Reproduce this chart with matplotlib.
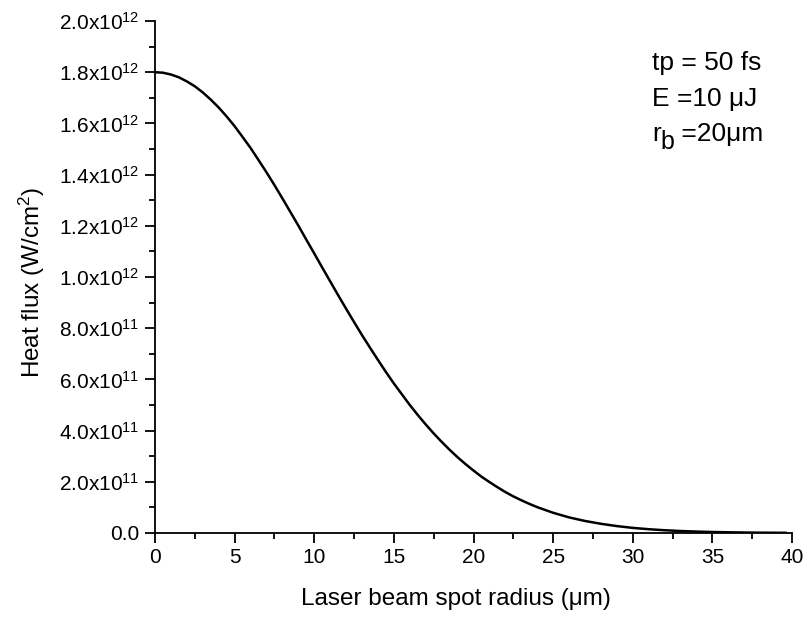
import math
import matplotlib
matplotlib.use("Agg")
import matplotlib.pyplot as plt
from matplotlib.ticker import MultipleLocator, FuncFormatter
from matplotlib import transforms

plt.rcParams['font.family'] = ['Liberation Sans', 'DejaVu Sans']
plt.rcParams['mathtext.fontset'] = 'custom'
plt.rcParams['mathtext.rm'] = 'Liberation Sans'
plt.rcParams['mathtext.it'] = 'Liberation Sans'
plt.rcParams['mathtext.default'] = 'regular'

# radius (um) and heat flux (units of 1e12 W/cm^2)
radius = [0, 0.5, 1, 1.5, 2, 2.5, 3, 3.5, 4, 4.5, 5, 5.5, 6, 6.5, 7, 7.5, 8, 8.5,
          9, 9.5, 10, 10.5, 11, 11.5, 12, 12.5, 13, 13.5, 14, 14.5, 15, 15.5,
          16, 16.5, 17, 17.5, 18, 18.5, 19, 19.5, 20, 20.5, 21, 21.5, 22, 22.5,
          23, 23.5, 24, 24.5, 25, 26, 27, 28, 29, 30, 31, 32, 33, 34, 35, 36,
          37, 38, 39, 39.6]
flux_e12 = [1.800, 1.798, 1.791, 1.780, 1.764, 1.745, 1.721, 1.693, 1.662, 1.627,
            1.589, 1.547, 1.504, 1.457, 1.409, 1.359, 1.307, 1.254, 1.201, 1.146,
            1.092, 1.037, 0.983, 0.929, 0.876, 0.824, 0.773, 0.724, 0.676, 0.629,
            0.584, 0.542, 0.500, 0.461, 0.424, 0.389, 0.356, 0.325, 0.296, 0.269,
            0.244, 0.220, 0.199, 0.179, 0.160, 0.143, 0.128, 0.114, 0.101, 0.090,
            0.079, 0.061, 0.047, 0.036, 0.027, 0.020, 0.0148, 0.0108, 0.0078,
            0.0056, 0.0039, 0.0028, 0.0019, 0.0013, 0.0009, 0.0007]
flux = [v * 1e12 for v in flux_e12]

fig = plt.figure(figsize=(8.06, 6.22), dpi=100)
ax = fig.add_axes([155/806, 1 - 533/622, (792-155)/806, (533-21)/622])

ax.plot(radius, flux, color='black', lw=1.8)

ax.set_xlim(0, 40)
ax.set_ylim(0, 2.0e12)
ax.xaxis.set_major_locator(MultipleLocator(5))
ax.xaxis.set_minor_locator(MultipleLocator(2.5))
ax.yaxis.set_major_locator(MultipleLocator(2e11))
ax.yaxis.set_minor_locator(MultipleLocator(1e11))

def yfmt(v, pos):
    if abs(v) < 1:
        return "0.0"
    e = int(math.floor(math.log10(abs(v)) + 1e-9))
    m = v / 10**e
    return f"{m:.1f}x10$^{{{e}}}$"

ax.yaxis.set_major_formatter(FuncFormatter(yfmt))

for s in ['top', 'right']:
    ax.spines[s].set_visible(False)
for s in ['left', 'bottom']:
    ax.spines[s].set_linewidth(1.3)

ax.tick_params(which='major', direction='out', length=7, width=1.3, labelsize=15, pad=4)
ax.tick_params(which='minor', direction='out', length=4, width=1.3)

ax.set_xlabel("Laser beam spot radius (μm)", fontsize=17.5, va='top')
ax.xaxis.set_label_coords(0.472, -0.108)
ax.set_ylabel("Heat flux (W/cm$^2$)", fontsize=17.5, va='center')
ax.yaxis.set_label_coords(-0.193, 0.49)

fs = 19
xa = 0.780
ax.text(xa, 0.904, "tp = 50 fs", transform=ax.transAxes, fontsize=fs, va='baseline', ha='left')
ax.text(xa, 0.834, "E =10 μJ", transform=ax.transAxes, fontsize=fs, va='baseline', ha='left')
t_r = ax.text(xa, 0.766, "r", transform=ax.transAxes, fontsize=fs, va='baseline', ha='left')
fig.canvas.draw()
r_w = t_r.get_window_extent().width
tr_b = transforms.offset_copy(ax.transAxes, fig=fig, x=r_w * 72 / fig.dpi, y=-6, units='points')
t_b = ax.text(xa, 0.766, "b", transform=tr_b, fontsize=fs - 1, va='baseline', ha='left')
fig.canvas.draw()
b_w = t_b.get_window_extent().width
tr_rest = transforms.offset_copy(ax.transAxes, fig=fig, x=(r_w + b_w) * 72 / fig.dpi, y=0, units='points')
ax.text(xa, 0.766, " =20μm", transform=tr_rest, fontsize=fs, va='baseline', ha='left')

fig.savefig("out.png", dpi=100)
